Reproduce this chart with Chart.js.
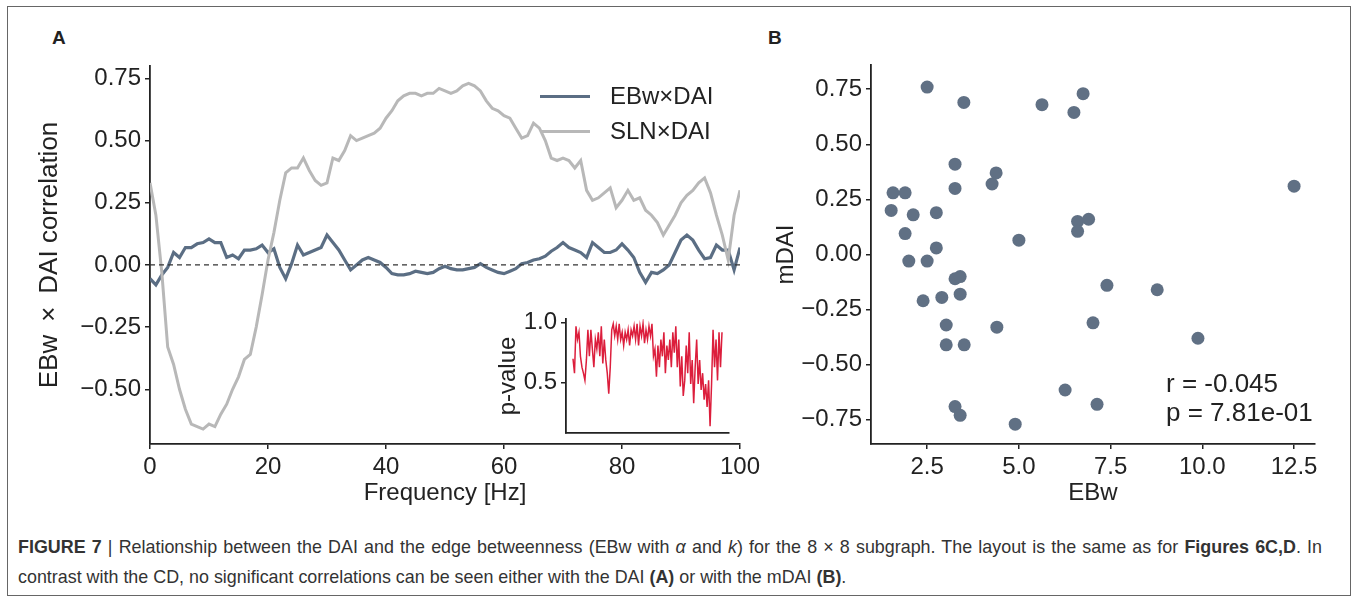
<!DOCTYPE html>
<html>
<head>
<meta charset="utf-8">
<title>Figure 7</title>
<script src="https://cdn.jsdelivr.net/npm/chart.js@4.4.1/dist/chart.umd.min.js"></script>
<style>
    body { margin: 0; background: #fff; font-family: "Liberation Sans", Arial, sans-serif; color: #222; }
    #frame { position: absolute; left: 7px; top: 6px; width: 1342px; height: 588px; border: 1px solid #666; }
    canvas { position: absolute; }
    .panel { position: absolute; font-weight: bold; font-size: 19px; }
    .leg { position: absolute; left: 540px; font-size: 24px; line-height: 24px; white-space: nowrap; }
    .leg span { display: inline-block; width: 50px; height: 3px; vertical-align: middle; margin-right: 20px; position: relative; top: -1px; }
    #stats { position: absolute; left: 1166px; top: 369px; font-size: 26px; line-height: 29px; }
    .cap { position: absolute; left: 18px; font-size: 17.9px; line-height: 22px; white-space: nowrap; color: #333; }
    #cap1 { top: 536px; width: 1304px; text-align: justify; text-align-last: justify; white-space: normal; }
    #cap2 { top: 566px; }
</style>
</head>
<body>

<div id="frame"></div>
<div class="panel" style="left:52px; top:27px;">A</div>
<div class="panel" style="left:768px; top:27px;">B</div>

<canvas id="chartA" width="750" height="480" style="left:20px; top:40px;"></canvas>
<canvas id="chartInset" width="250" height="135" style="left:490px; top:305px;"></canvas>
<canvas id="chartB" width="570" height="480" style="left:770px; top:40px;"></canvas>

<div class="leg" style="top:84px;"><span style="background:#5b6e84"></span>EBw×DAI</div>
<div class="leg" style="top:119px;"><span style="background:#b8b8b8"></span>SLN×DAI</div>

<div id="stats">r = -0.045<br>p = 7.81e-01</div>

<div class="cap" id="cap1"><b>FIGURE 7</b> | Relationship between the DAI and the edge betweenness (EBw with <i>α</i> and <i>k</i>) for the 8 × 8 subgraph. The layout is the same as for <b>Figures 6C,D</b>. In</div>
<div class="cap" id="cap2">contrast with the CD, no significant correlations can be seen either with the DAI <b>(A)</b> or with the mDAI <b>(B)</b>.</div>

<script>
// frequency axis (Hz), shared by the correlation curves and the p-value inset
var freq = [0,1,2,3,4,5,6,7,8,9,10,11,12,13,14,15,16,17,18,19,20,21,22,23,24,25,26,27,28,29,30,
    31,32,33,34,35,36,37,38,39,40,41,42,43,44,45,46,47,48,49,50,51,52,53,54,55,56,57,58,59,60,
    61,62,63,64,65,66,67,68,69,70,71,72,73,74,75,76,77,78,79,80,81,82,83,84,85,86,87,88,89,90,
    91,92,93,94,95,96,97,98,99,100];

var ebwCorr = [-0.055,-0.08,-0.04,-0.01,0.05,0.03,0.07,0.07,0.085,0.09,
    0.105,0.09,0.09,0.03,0.04,0.025,0.06,0.06,0.065,0.08,
    0.05,0.065,-0.01,-0.055,0.005,0.08,0.04,0.05,0.06,0.07,
    0.12,0.09,0.06,0.02,-0.02,0.00,0.02,0.03,0.02,0.01,
    -0.01,-0.035,-0.04,-0.04,-0.035,-0.025,-0.03,-0.035,-0.03,-0.015,
    -0.005,-0.015,-0.02,-0.02,-0.015,-0.01,0.005,-0.01,-0.02,-0.03,
    -0.035,-0.025,-0.015,0.005,0.01,0.02,0.025,0.035,0.055,0.07,
    0.09,0.07,0.06,0.05,0.03,0.09,0.07,0.05,0.05,0.06,
    0.085,0.06,0.03,-0.03,-0.07,-0.03,-0.035,-0.02,0.00,0.05,
    0.10,0.12,0.10,0.06,0.025,0.03,0.08,0.06,0.06,-0.02,
    0.07];

var slnCorr = [0.33,0.20,-0.03,-0.33,-0.40,-0.50,-0.58,-0.64,-0.65,-0.66,
    -0.64,-0.65,-0.60,-0.56,-0.50,-0.45,-0.38,-0.36,-0.25,-0.12,
    0.02,0.13,0.26,0.37,0.39,0.39,0.43,0.38,0.34,0.32,
    0.33,0.43,0.42,0.46,0.52,0.50,0.51,0.52,0.53,0.55,
    0.59,0.62,0.66,0.68,0.69,0.69,0.68,0.69,0.69,0.71,
    0.70,0.69,0.70,0.72,0.73,0.72,0.70,0.66,0.63,0.62,
    0.60,0.59,0.55,0.51,0.52,0.57,0.55,0.50,0.43,0.42,
    0.43,0.42,0.39,0.42,0.30,0.26,0.27,0.29,0.31,0.23,
    0.26,0.30,0.26,0.27,0.22,0.20,0.17,0.12,0.16,0.20,
    0.25,0.28,0.30,0.33,0.35,0.29,0.20,0.12,0.02,0.20,
    0.30];

var pValue = [0.70,0.58,0.97,0.86,0.92,0.72,0.63,0.58,0.52,0.69,
    0.94,0.72,0.94,0.78,0.63,0.86,0.78,0.92,0.72,0.97,
    0.66,0.86,0.69,0.58,0.41,0.63,0.94,0.99,0.89,0.97,
    0.86,0.99,0.86,0.92,0.81,0.92,0.86,0.94,0.81,0.94,
    0.89,0.97,0.86,0.99,0.81,0.97,0.89,0.99,0.83,0.94,
    0.86,0.97,0.89,0.99,0.72,0.78,0.55,0.81,0.63,0.86,
    0.72,0.92,0.58,0.81,0.69,0.86,0.63,0.92,0.75,0.97,
    0.63,0.86,0.47,0.72,0.39,0.52,0.81,0.58,0.92,0.49,
    0.69,0.33,0.63,0.86,0.49,0.69,0.44,0.58,0.36,0.49,
    0.30,0.52,0.14,0.49,0.94,0.63,0.86,0.52,0.92,0.63,
    0.92];

// panel B: one point per subject
var ebwX = [1.57,1.90,1.52,2.12,2.50,2.75,1.90,2.00,2.50,2.75,3.26,3.26,3.50,4.27,4.38,5.00,5.63,6.50,6.75,6.60,6.90,
    6.60,12.50,3.26,3.40,2.39,2.90,3.40,3.02,3.02,3.51,4.40,7.40,8.77,7.02,9.88,6.26,7.13,3.26,3.40,4.90];
var mdaiY = [0.28,0.28,0.20,0.18,0.76,0.19,0.095,-0.03,-0.03,0.03,0.41,0.30,0.69,0.32,0.37,0.065,0.68,0.645,0.73,0.15,0.16,
    0.105,0.31,-0.11,-0.10,-0.21,-0.195,-0.18,-0.32,-0.41,-0.41,-0.33,-0.14,-0.16,-0.31,-0.38,-0.615,-0.68,-0.69,-0.73,-0.77];

// tick labels
var freqTicks = [0, 20, 40, 60, 80, 100];
var corrTicks = [-0.5, -0.25, 0, 0.25, 0.5, 0.75];
var pTicks = [0.5, 1.0];
var ebwTicks = [2.5, 5.0, 7.5, 10.0, 12.5];
var mdaiTicks = [-0.75, -0.5, -0.25, 0, 0.25, 0.5, 0.75];

Chart.defaults.font.family = '"Liberation Sans", Arial, sans-serif';
Chart.defaults.font.size = 24;
Chart.defaults.color = '#222';
Chart.defaults.animation = false;
Chart.defaults.plugins.legend.display = false;
Chart.defaults.plugins.tooltip.enabled = false;

function pairs(xs, ys){
    var out = [];
    for(var i = 0; i < xs.length; i++){
        out.push({x: xs[i], y: ys[i]});
    }
    return out;
}

function fmt(digits){
    return function(v){ return Number(v).toFixed(digits).replace('-', '\u2212'); };
}

// matplotlib-ish spine: axis line + short outward ticks, no grid.
// box size is pinned so the plot areas land where the figure has them
function spineAxis(ticks, min, max, digits, size, horiz, title){
    return {
        type: 'linear', min: min, max: max,
        afterBuildTicks: function(s){ s.ticks = ticks.map(function(v){ return {value: v}; }); },
        afterFit: function(s){
            if(horiz){ s.height = size; } else { s.width = size; }
            s.paddingTop = 0; s.paddingBottom = 0; s.paddingLeft = 0; s.paddingRight = 0;
        },
        ticks: { callback: fmt(digits), padding: 4, maxRotation: 0, autoSkip: false, color: '#222' },
        grid: { drawOnChartArea: false, drawTicks: true, tickLength: 5, color: '#222', lineWidth: 1.5 },
        border: { display: true, color: '#222', width: 1.8 },
        title: title
    };
}

/**
 * Panel A - correlation vs frequency
 */
var zeroLine = [0, 0];
var zeroX = [freq[0], freq[freq.length - 1]];

new Chart(document.getElementById('chartA'), {
    type: 'line',
    data: {
        datasets: [{
            label: 'zero',
            data: pairs(zeroX, zeroLine),
            borderColor: '#333', borderWidth: 1.3, borderDash: [5, 4], pointRadius: 0
        }, {
            label: 'SLN×DAI',
            data: pairs(freq, slnCorr),
            borderColor: '#b8b8b8', borderWidth: 3, pointRadius: 0, tension: 0
        }, {
            label: 'EBw×DAI',
            data: pairs(freq, ebwCorr),
            borderColor: '#5b6e84', borderWidth: 3.2, pointRadius: 0, tension: 0
        }]
    },
    options: {
        responsive: false,
        layout: { padding: { left: 0, right: 30, top: 26, bottom: 0 } },
        scales: {
            x: spineAxis(freqTicks, 0, 100, 0, 76, true,
                { display: true, text: 'Frequency [Hz]', padding: { top: 0, bottom: 12 } }),
            y: spineAxis(corrTicks, -0.72, 0.80, 2, 130, false,
                { display: true, text: 'EBw\u2002×\u2002DAI correlation', font: { size: 26 }, padding: { top: 14, bottom: 0 } })
        }
    }
});

/**
 * Inset - p-value
 */
var insetY = spineAxis(pTicks, 0.083, 1.03, 1, 76, false,
    { display: true, text: 'p-value', padding: { top: 4, bottom: 0 } });
var insetX = spineAxis([], -4.7, 104.7, 0, 0, true, { display: false });
insetX.ticks.display = false;
insetX.grid.drawTicks = false;

new Chart(document.getElementById('chartInset'), {
    type: 'line',
    data: {
        datasets: [{
            label: 'p-value',
            data: pairs(freq, pValue),
            borderColor: '#dc1e3c', borderWidth: 1.5, pointRadius: 0, tension: 0
        }]
    },
    options: {
        responsive: false,
        layout: { padding: { left: 0, right: 11, top: 14, bottom: 7 } },
        scales: { x: insetX, y: insetY }
    }
});

/**
 * Panel B - mDAI vs EBw scatter
 */
new Chart(document.getElementById('chartB'), {
    type: 'scatter',
    data: {
        datasets: [{
            label: 'subjects',
            data: pairs(ebwX, mdaiY),
            backgroundColor: '#607084', borderColor: '#607084', pointRadius: 6.5, pointBorderWidth: 0
        }]
    },
    options: {
        responsive: false,
        layout: { padding: { left: 0, right: 25, top: 25, bottom: 0 } },
        scales: {
            x: spineAxis(ebwTicks, 0.97, 13.07, 1, 76, true,
                { display: true, text: 'EBw', padding: { top: 0, bottom: 12 } }),
            y: spineAxis(mdaiTicks, -0.86, 0.86, 2, 101, false,
                { display: true, text: 'mDAI', padding: { top: 2, bottom: 0 } })
        }
    }
});
</script>
</body>
</html>
